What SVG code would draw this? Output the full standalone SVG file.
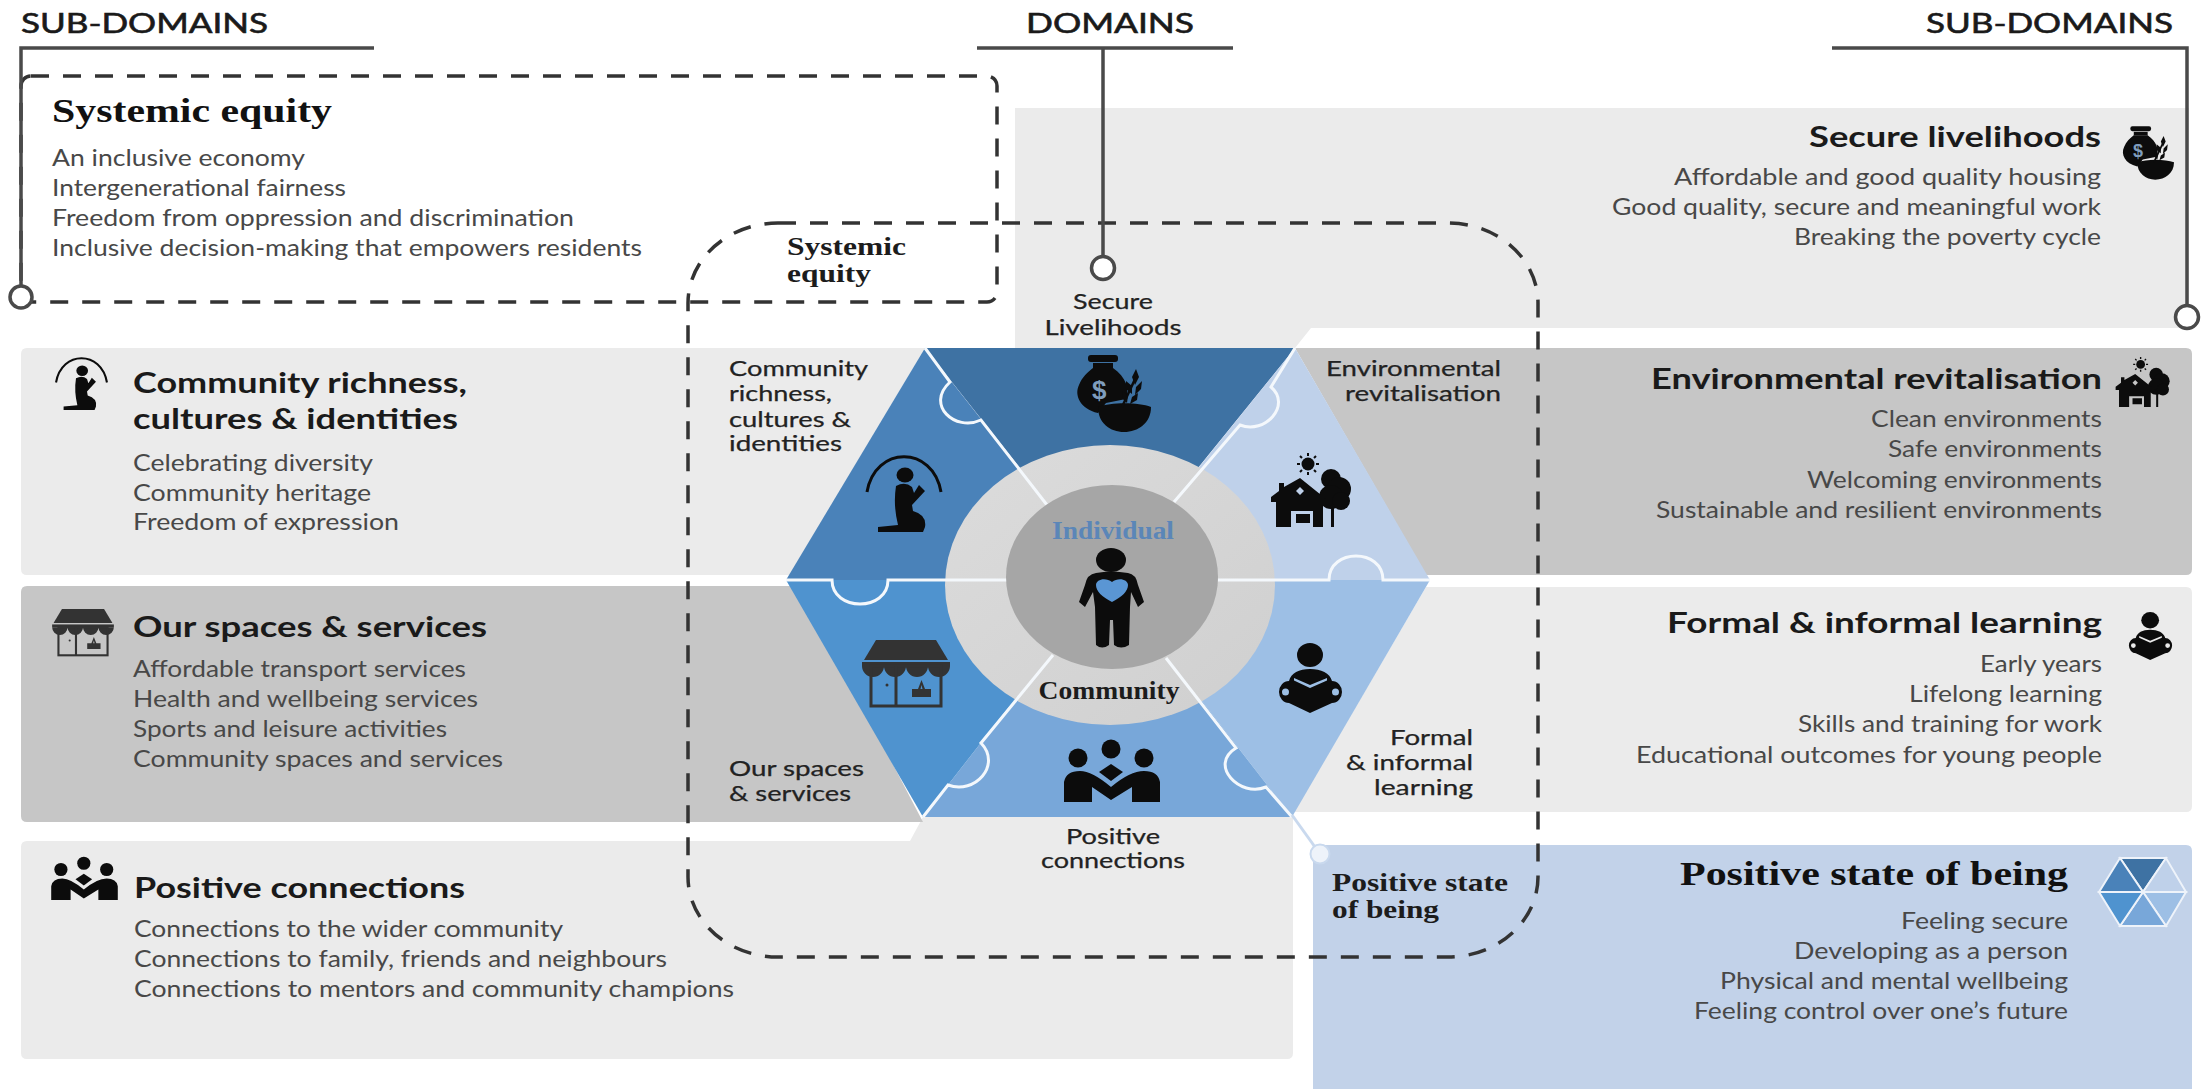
<svg xmlns="http://www.w3.org/2000/svg" xmlns:xlink="http://www.w3.org/1999/xlink" width="2209" height="1089" viewBox="0 0 2209 1089">
<style>
text{font-family:Lato,"Open Sans","Liberation Sans",sans-serif}
.serif{font-family:"Liberation Serif","DejaVu Serif",serif;font-weight:700}
.hd{font-size:27px;fill:#1a1a1a;stroke:#1a1a1a;stroke-width:.6}
.t{font-size:28px;font-weight:700;fill:#1a1a1a}
.b{font-size:24px;fill:#484848}
.l{font-size:21px;fill:#222;stroke:#222;stroke-width:.25}
.st{font-size:33px;fill:#111}
.sl{font-size:26px;fill:#1c1c1c}
.e{text-anchor:end}
.m{text-anchor:middle}
.lead{fill:none;stroke:#4a4a4a;stroke-width:3.5}
.dot{fill:#fff;stroke:#4a4a4a;stroke-width:3.5}
.dash{fill:none;stroke:#333;stroke-width:3.5;stroke-dasharray:18 14}
.seam{fill:none;stroke:#f4f8fc;stroke-width:3}
.ink{fill:#0c0c0c}
.shopi{fill:#333}
.shopl{fill:none;stroke:#333;stroke-width:3}
</style>
<defs>
<symbol id="i-bag" viewBox="0 0 75 77" overflow="visible">
<rect class="ink" x="12" y="0" width="30" height="7" rx="3"/><rect class="ink" x="17" y="8" width="20" height="5"/>
<path class="ink" d="M17,13H37C50,22 54,34 50,44L30,48L22,58C4,54-2,40 3,30C6,22 12,17 17,13Z"/>
<text x="16" y="44" style="font-size:26px;font-weight:700;fill:#7f9dbd;font-family:'Liberation Sans',sans-serif">$</text>
<path class="ink" d="M22,52C35,47 62,47 75,52C75,68 62,77 48,77C34,77 22,68 22,52Z"/>
<path d="M46,52L60,22" fill="none" stroke="#0c0c0c" stroke-width="2.5"/>
<path class="ink" d="M60,14l3,8l-4,8l-3,-8ZM50,26l6,5l0,8l-6,-5ZM66,26l-1,8l-6,6l1,-8ZM47,36l5,5l-1,7l-5,-5ZM62,38l-1,7l-7,4l2,-7Z"/>
</symbol>
<symbol id="i-pray" viewBox="0 0 78 77" overflow="visible">
<path d="M2,37C10,-10 68,-10 76,37" fill="none" stroke="#0c0c0c" stroke-width="3"/>
<ellipse class="ink" cx="40" cy="20" rx="8.500" ry="7.500"/>
<path class="ink" d="M31,31Q40,26 47,32L49,38L54,30L60,36L47,50L48,56Q62,60 60,72L58,77L13,77L13,72L33,70Q28,50 31,31Z"/>
</symbol>
<symbol id="i-house" viewBox="0 0 84 74" overflow="visible">
<circle class="ink" cx="37" cy="11" r="6.500"/>
<path d="M37,0v3M37,19v3M26,11h3M45,11h3M29,3l2,2M43,17l2,2M45,3l-2,2M29,19l2,-2" stroke="#0c0c0c" stroke-width="2" fill="none"/>
<circle class="ink" cx="60" cy="26" r="10"/><circle class="ink" cx="68" cy="36" r="12"/><circle class="ink" cx="60" cy="44" r="12"/><circle class="ink" cx="70" cy="48" r="9"/>
<rect class="ink" x="60" y="52" width="3" height="22"/>
<path class="ink" fill-rule="evenodd" d="M29,25L60,50L56,52L52,49V74H42V58H20V74H5V49L0,49V44L8,38V30H13V34ZM29,34L25,38L29,42L33,38ZM25,61H39V70H25Z"/>
</symbol>
<symbol id="i-read" viewBox="0 0 63 70" overflow="visible">
<ellipse class="ink" cx="31" cy="12" rx="13" ry="12"/>
<path class="ink" fill-rule="evenodd" d="M31,26C20,26 12,30 10,38A10,11 0 0 0 10,60L31,70L53,60A10,11 0 0 0 53,38C51,30 42,26 31,26ZM15,35L31,42L48,35L48,37.500L31,45L15,37.500ZM3,49a3.500,3.500 0 1 0 7,0a3.500,3.500 0 1 0 -7,0ZM53,49a3.500,3.500 0 1 0 7,0a3.500,3.500 0 1 0 -7,0Z"/>
</symbol>
<symbol id="i-shop" viewBox="0 0 88 67" overflow="visible">
<path class="shopi" d="M14,0H74L86,20H2Z"/><rect class="shopi" x="0" y="22" width="88" height="4"/>
<path class="shopi" d="M0,26a11,11 0 0 0 22,0a11,11 0 0 0 22,0a11,11 0 0 0 22,0a11,11 0 0 0 22,0Z"/>
<rect class="shopl" x="9" y="26" width="70" height="40"/><path class="shopl" d="M34,26V66"/>
<circle class="shopi" cx="25" cy="45" r="1.500"/>
<path class="shopi" d="M50,49H69V57H50ZM56,49L59.500,40L63,49H60.500L59.500,45L58.500,49Z"/>
</symbol>
<symbol id="i-people" viewBox="0 0 96 62" overflow="visible">
<circle class="ink" cx="14" cy="18" r="9.500"/><circle class="ink" cx="47" cy="9" r="9.500"/><circle class="ink" cx="80" cy="18" r="9.500"/>
<path class="ink" d="M47,24L59,32L47,41L35,32Z"/>
<path class="ink" d="M0,62V42Q2,31 16,31Q28,31 47,47Q66,31 80,31Q94,31 96,42V62H68V47L47,60L28,47V62Z"/>
</symbol>
<linearGradient id="ring" x1="0" y1="0" x2="1" y2="1"><stop offset="0" stop-color="#dcdcdc"/><stop offset="1" stop-color="#cfcfcf"/></linearGradient>
</defs>
<rect width="2209" height="1089" fill="#fff"/>

<g id="subdomain-secure-livelihoods">
<path d="M1015,108H2189V328H1311L1295,348H1015Z" fill="#ebebeb"/>
<use href="#i-bag" x="2122" y="126" width="52" height="54"/>
<text class="t e" x="2101" y="147" textLength="292" lengthAdjust="spacingAndGlyphs">Secure livelihoods</text>
<text class="b e" x="2101" y="185" textLength="427" lengthAdjust="spacingAndGlyphs">Affordable and good quality housing</text>
<text class="b e" x="2101" y="215" textLength="489" lengthAdjust="spacingAndGlyphs">Good quality, secure and meaningful work</text>
<text class="b e" x="2101" y="245" textLength="307" lengthAdjust="spacingAndGlyphs">Breaking the poverty cycle</text>
</g>
<g id="subdomain-environmental-revitalisation">
<path d="M1295,348H2186Q2192,348 2192,354V569Q2192,575 2186,575H1426Z" fill="#c6c6c6"/>
<use href="#i-house" x="2115" y="357" width="58" height="50"/>
<text class="t e" x="2102" y="389" textLength="451" lengthAdjust="spacingAndGlyphs">Environmental revitalisation</text>
<text class="b e" x="2102" y="427" textLength="231" lengthAdjust="spacingAndGlyphs">Clean environments</text>
<text class="b e" x="2102" y="457" textLength="214" lengthAdjust="spacingAndGlyphs">Safe environments</text>
<text class="b e" x="2102" y="488" textLength="295" lengthAdjust="spacingAndGlyphs">Welcoming environments</text>
<text class="b e" x="2102" y="518" textLength="446" lengthAdjust="spacingAndGlyphs">Sustainable and resilient environments</text>
</g>
<g id="subdomain-formal-learning">
<path d="M1426,587H2186Q2192,587 2192,593V806Q2192,812 2186,812H1294Z" fill="#ebebeb"/>
<use href="#i-read" x="2128" y="612" width="45" height="48"/>
<text class="t e" x="2102" y="633" textLength="435" lengthAdjust="spacingAndGlyphs">Formal &amp; informal learning</text>
<text class="b e" x="2102" y="672" textLength="122" lengthAdjust="spacingAndGlyphs">Early years</text>
<text class="b e" x="2102" y="702" textLength="193" lengthAdjust="spacingAndGlyphs">Lifelong learning</text>
<text class="b e" x="2102" y="732" textLength="304" lengthAdjust="spacingAndGlyphs">Skills and training for work</text>
<text class="b e" x="2102" y="763" textLength="466" lengthAdjust="spacingAndGlyphs">Educational outcomes for young people</text>
</g>
<g id="subdomain-positive-connections">
<path d="M27,841H910L923,817H1293V1053Q1293,1059 1287,1059H27Q21,1059 21,1053V847Q21,841 27,841Z" fill="#ebebeb"/>
<use href="#i-people" x="51" y="857" width="67" height="43"/>
<text class="t" x="134" y="898" textLength="331" lengthAdjust="spacingAndGlyphs">Positive connections</text>
<text class="b" x="134" y="937" textLength="429" lengthAdjust="spacingAndGlyphs">Connections to the wider community</text>
<text class="b" x="134" y="967" textLength="533" lengthAdjust="spacingAndGlyphs">Connections to family, friends and neighbours</text>
<text class="b" x="134" y="997" textLength="600" lengthAdjust="spacingAndGlyphs">Connections to mentors and community champions</text>
</g>
<g id="subdomain-our-spaces">
<path d="M27,586H800L923,822H27Q21,822 21,816V592Q21,586 27,586Z" fill="#c6c6c6"/>
<use href="#i-shop" x="52" y="609" width="62" height="47"/>
<text class="t" x="133" y="637" textLength="354" lengthAdjust="spacingAndGlyphs">Our spaces &amp; services</text>
<text class="b" x="133" y="677" textLength="333" lengthAdjust="spacingAndGlyphs">Affordable transport services</text>
<text class="b" x="133" y="707" textLength="345" lengthAdjust="spacingAndGlyphs">Health and wellbeing services</text>
<text class="b" x="133" y="737" textLength="314" lengthAdjust="spacingAndGlyphs">Sports and leisure activities</text>
<text class="b" x="133" y="767" textLength="370" lengthAdjust="spacingAndGlyphs">Community spaces and services</text>
</g>
<g id="subdomain-community-richness">
<path d="M27,348H925L790,575H27Q21,575 21,569V354Q21,348 27,348Z" fill="#ebebeb"/>
<use href="#i-pray" x="54" y="357" width="55" height="53"/>
<text class="t" x="133" y="393" textLength="334" lengthAdjust="spacingAndGlyphs">Community richness,</text>
<text class="t" x="133" y="429" textLength="325" lengthAdjust="spacingAndGlyphs">cultures &amp; identities</text>
<text class="b" x="133" y="471" textLength="240" lengthAdjust="spacingAndGlyphs">Celebrating diversity</text>
<text class="b" x="133" y="501" textLength="238" lengthAdjust="spacingAndGlyphs">Community heritage</text>
<text class="b" x="133" y="530" textLength="266" lengthAdjust="spacingAndGlyphs">Freedom of expression</text>
</g>
<g id="subdomain-positive-state">
<path d="M1313,845H2186Q2192,845 2192,851V1089H1313Z" fill="#c2d2e9"/>
<g stroke="#eef3fa" stroke-width="2">
<path d="M2143,892L2120,858H2166Z" fill="#3e72a3"/><path d="M2143,892L2166,858L2186,892Z" fill="#bfd1ea"/>
<path d="M2143,892H2186L2166,926Z" fill="#9dbfe5"/><path d="M2143,892L2166,926H2120Z" fill="#78a7d9"/>
<path d="M2143,892L2120,926L2099,892Z" fill="#4f93cf"/><path d="M2143,892H2099L2120,858Z" fill="#4a82b9"/>
</g>
<text class="serif st e" x="2068" y="885" textLength="388" lengthAdjust="spacingAndGlyphs">Positive state of being</text>
<text class="b e" x="2068" y="929" textLength="167" lengthAdjust="spacingAndGlyphs">Feeling secure</text>
<text class="b e" x="2068" y="959" textLength="274" lengthAdjust="spacingAndGlyphs">Developing as a person</text>
<text class="b e" x="2068" y="989" textLength="348" lengthAdjust="spacingAndGlyphs">Physical and mental wellbeing</text>
<text class="b e" x="2068" y="1019" textLength="374" lengthAdjust="spacingAndGlyphs">Feeling control over one’s future</text>
</g>
<g id="subdomain-systemic-equity">
<text class="serif st" x="52" y="122" textLength="280" lengthAdjust="spacingAndGlyphs">Systemic equity</text>
<text class="b" x="52" y="166" textLength="253" lengthAdjust="spacingAndGlyphs">An inclusive economy</text>
<text class="b" x="52" y="196" textLength="294" lengthAdjust="spacingAndGlyphs">Intergenerational fairness</text>
<text class="b" x="52" y="226" textLength="522" lengthAdjust="spacingAndGlyphs">Freedom from oppression and discrimination</text>
<text class="b" x="52" y="256" textLength="590" lengthAdjust="spacingAndGlyphs">Inclusive decision-making that empowers residents</text>
<rect class="dash" x="21" y="76" width="976" height="226" rx="10"/>
</g>

<g id="hexagon">
<path id="seg-top" d="M925,348H1295L1108,579Z" fill="#3e72a3"/>
<path id="seg-upper-right" d="M1295,348L1430,580H1108Z" fill="#bfd1ea"/>
<path id="seg-lower-right" d="M1430,580L1292,817L1108,580Z" fill="#9dbfe5"/>
<path id="seg-bottom" d="M1292,817H923L1108,580Z" fill="#78a7d9"/>
<path id="seg-lower-left" d="M923,817L786,580H1108Z" fill="#4f93cf"/>
<path id="seg-upper-left" d="M786,580L925,348L1108,580Z" fill="#4a82b9"/>
<ellipse cx="1110" cy="585" rx="165" ry="140" fill="url(#ring)"/>
<path class="seam" d="M925,348L950,382C925,405 955,432 981,420L1047,505"/>
<path class="seam" d="M1295,348L1271,387C1292,405 1265,435 1240,425L1174,502"/>
<path class="seam" d="M786,580H832C832,612 888,612 888,580H1007"/>
<path class="seam" d="M1430,580H1383C1383,548 1329,548 1329,580H1218"/>
<path class="seam" d="M923,817L948,785C975,795 1002,765 981,743L1053,655"/>
<path class="seam" d="M1292,817L1266,787C1240,798 1208,765 1236,748L1166,658"/>
<ellipse cx="1112" cy="577" rx="106" ry="92" fill="#a6a6a6"/>
<use href="#i-bag" x="1076" y="355" width="75" height="77"/>
<use href="#i-pray" x="865" y="455" width="78" height="77"/>
<use href="#i-house" x="1271" y="453" width="84" height="74"/>
<use href="#i-read" x="1279" y="643" width="63" height="70"/>
<use href="#i-shop" x="862" y="640" width="88" height="67"/>
<use href="#i-people" x="1064" y="740" width="96" height="62"/>
<g id="person">
<ellipse class="ink" cx="1111" cy="560" rx="15" ry="12"/>
<path class="ink" d="M1096,573Q1111,570 1128,573Q1136,574 1138,585L1144,602L1138,607L1131,592L1130,607L1129,645Q1121,650 1114,645L1113,620H1110L1109,645Q1102,650 1096,645L1095,607L1093,592L1085,607L1079,602L1085,585Q1087,574 1096,573Z"/>
<path d="M1112,602C1102,597 1096,591 1096,585C1096,579 1106,577 1112,582C1118,577 1128,579 1128,585C1128,591 1122,597 1112,602Z" fill="#5a96d4"/>
</g>
<text class="serif sl m" x="1113" y="539" style="fill:#5b86b8" textLength="122" lengthAdjust="spacingAndGlyphs">Individual</text>
<text class="serif sl m" x="1109" y="699" textLength="141" lengthAdjust="spacingAndGlyphs">Community</text>
</g>

<g id="domain-labels">
<text class="l m" x="1113" y="309" textLength="80" lengthAdjust="spacingAndGlyphs">Secure</text>
<text class="l m" x="1113" y="335" textLength="137" lengthAdjust="spacingAndGlyphs">Livelihoods</text>
<text class="l" x="729" y="376" textLength="139" lengthAdjust="spacingAndGlyphs">Community</text>
<text class="l" x="729" y="401" textLength="103" lengthAdjust="spacingAndGlyphs">richness,</text>
<text class="l" x="729" y="427" textLength="122" lengthAdjust="spacingAndGlyphs">cultures &amp;</text>
<text class="l" x="729" y="451" textLength="113" lengthAdjust="spacingAndGlyphs">identities</text>
<text class="l e" x="1501" y="376" textLength="175" lengthAdjust="spacingAndGlyphs">Environmental</text>
<text class="l e" x="1501" y="401" textLength="156" lengthAdjust="spacingAndGlyphs">revitalisation</text>
<text class="l e" x="1473" y="745" textLength="83" lengthAdjust="spacingAndGlyphs">Formal</text>
<text class="l e" x="1473" y="770" textLength="127" lengthAdjust="spacingAndGlyphs">&amp; informal</text>
<text class="l e" x="1473" y="795" textLength="99" lengthAdjust="spacingAndGlyphs">learning</text>
<text class="l" x="729" y="776" textLength="135" lengthAdjust="spacingAndGlyphs">Our spaces</text>
<text class="l" x="729" y="801" textLength="122" lengthAdjust="spacingAndGlyphs">&amp; services</text>
<text class="l m" x="1113" y="844" textLength="94" lengthAdjust="spacingAndGlyphs">Positive</text>
<text class="l m" x="1113" y="868" textLength="144" lengthAdjust="spacingAndGlyphs">connections</text>
<text class="serif sl" x="787" y="255" textLength="119" lengthAdjust="spacingAndGlyphs">Systemic</text>
<text class="serif sl" x="787" y="282" textLength="84" lengthAdjust="spacingAndGlyphs">equity</text>
<text class="serif sl" x="1332" y="891" textLength="176" lengthAdjust="spacingAndGlyphs">Positive state</text>
<text class="serif sl" x="1332" y="918" textLength="107" lengthAdjust="spacingAndGlyphs">of being</text>
</g>

<g id="headers">
<text class="hd" x="21" y="33" textLength="247" lengthAdjust="spacingAndGlyphs">SUB-DOMAINS</text>
<text class="hd" x="1026" y="33" textLength="168" lengthAdjust="spacingAndGlyphs">DOMAINS</text>
<text class="hd" x="1926" y="33" textLength="247" lengthAdjust="spacingAndGlyphs">SUB-DOMAINS</text>
</g>

<g id="connectors">
<rect class="dash" x="688" y="223" width="850" height="734" rx="90" ry="80"/>
<path class="lead" d="M374,48H21V286"/><circle class="dot" cx="21" cy="297" r="11"/>
<path class="lead" d="M977,48H1233M1103,48V256"/><circle class="dot" cx="1103" cy="268" r="11.500"/>
<path class="lead" d="M1832,48H2187V305"/><circle class="dot" cx="2187" cy="317" r="11.500"/>
<path d="M1292,815L1320,854" stroke="#c9d9ee" stroke-width="3" fill="none"/><circle cx="1320" cy="854" r="9.500" fill="#eef3fa" stroke="#c9d9ee" stroke-width="2"/>
</g>
</svg>
